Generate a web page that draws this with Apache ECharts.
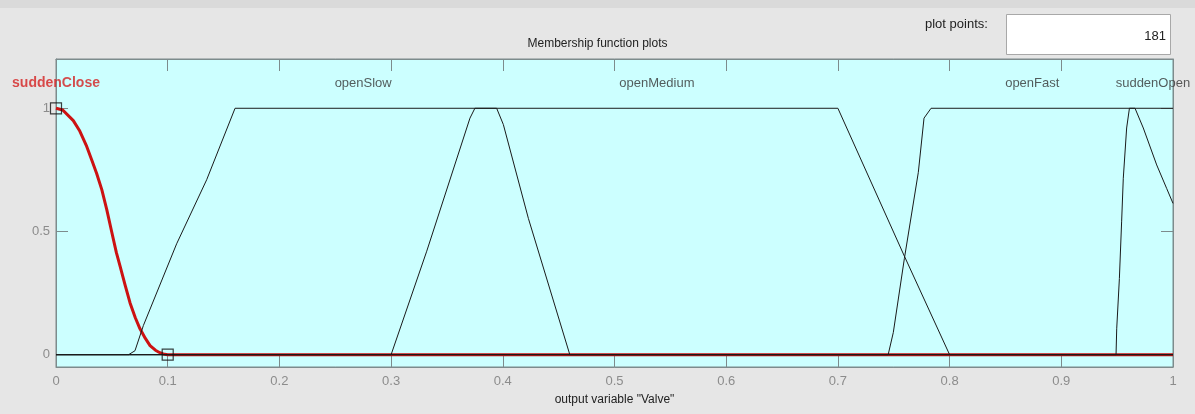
<!DOCTYPE html>
<html>
<head>
<meta charset="utf-8">
<title>Membership function plots</title>
<script src="https://cdn.jsdelivr.net/npm/echarts@6/dist/echarts.min.js"></script>
<style>
  html, body { margin: 0; padding: 0; background: #e6e6e6; }
  #chart { width: 1195px; height: 414px; }
</style>
</head>
<body>
<div id="chart"></div>
<script>
// 隶属函数数据
const suddenCloseX = [0, 0.006, 0.0155, 0.021, 0.0275, 0.032, 0.0364, 0.041, 0.0454, 0.0498, 0.054, 0.0573, 0.062, 0.0663, 0.071, 0.0752, 0.080, 0.0842, 0.089, 0.093, 0.096, 0.1, 1];
const suddenCloseY = [1, 0.993, 0.95, 0.91, 0.845, 0.79, 0.735, 0.67, 0.59, 0.50, 0.415, 0.36, 0.28, 0.21, 0.15, 0.105, 0.066, 0.037, 0.018, 0.008, 0.003, 0, 0];

const openSlowX = [0, 0.065, 0.0707, 0.0782, 0.108, 0.1349, 0.1603, 0.3945, 0.4005, 0.4229, 0.46, 1];
const openSlowY = [0, 0, 0.016, 0.118, 0.45, 0.71, 1, 1, 0.934, 0.553, 0, 0];

const openMediumX = [0, 0.3, 0.3319, 0.3706, 0.375, 0.7, 0.7595, 0.8, 1];
const openMediumY = [0, 0, 0.42, 0.96, 1, 1, 0.4, 0, 0];

const openFastX = [0, 0.745, 0.7496, 0.7595, 0.772, 0.7771, 0.7834, 0.966, 0.9734, 0.9854, 0.9943, 1];
const openFastY = [0, 0, 0.09, 0.39, 0.74, 0.96, 1, 1, 0.92, 0.77, 0.675, 0.614];

const suddenOpenX = [0, 0.949, 0.9496, 0.952, 0.954, 0.9555, 0.9585, 0.961, 1];
const suddenOpenY = [0, 0, 0.105, 0.309, 0.539, 0.716, 0.92, 1, 1];

// 参数点 (小方框)
const paramX = [0, 0.1];
const paramY = [1, 0];

// 隶属函数名称与标签位置
const mfNames = ['suddenClose', 'openSlow', 'openMedium', 'openFast', 'suddenOpen'];
const mfLabelX = [0, 0.275, 0.538, 0.874, 0.982];
const mfLabelY = 1.1;

const yTicks = [0, 0.5, 1];
const plotPoints = '181';

const FONT = '"Liberation Sans", Arial, sans-serif';
const frameColor = '#7d8b8c';
const tickTextColor = '#8c8c8c';

function zip(xs, ys) {
  return xs.map((x, i) => [x, ys[i]]);
}

function blackLine(name, xs, ys) {
  return {
    name: name,
    type: 'line',
    data: zip(xs, ys),
    symbol: 'none',
    z: 3,
    lineStyle: { color: '#1a1a1a', width: 1 }
  };
}

function getOption() {
  const fmtX = v => (v === 0 ? '0' : v === 1 ? '1' : (+v).toFixed(1));
  const fmtY = v => (v === 0 ? '0' : v === 1 ? '1' : String(v));
  const tick = { show: true, inside: true, length: 12, lineStyle: { color: frameColor } };
  const line = { show: true, onZero: false, lineStyle: { color: frameColor } };
  return {
    backgroundColor: '#e6e6e6',
    animation: false,
    textStyle: { fontFamily: FONT },
    grid: {
      show: true,
      left: 56,
      right: 22,
      top: 59,
      bottom: 47,
      backgroundColor: '#ccffff',
      borderColor: frameColor,
      borderWidth: 1
    },
    xAxis: [
      {
        type: 'value',
        position: 'bottom',
        min: 0,
        max: 1,
        interval: 0.1,
        name: 'output variable "Valve"',
        nameLocation: 'middle',
        nameGap: 27,
        nameTextStyle: { color: '#222', fontSize: 12, fontFamily: FONT },
        axisLine: line,
        axisTick: tick,
        axisLabel: { color: tickTextColor, fontSize: 13, margin: 8, formatter: fmtX, fontFamily: FONT },
        splitLine: { show: false }
      },
      {
        type: 'value',
        position: 'top',
        min: 0,
        max: 1,
        interval: 0.1,
        axisLine: line,
        axisTick: tick,
        axisLabel: { show: false },
        splitLine: { show: false }
      }
    ],
    yAxis: [
      {
        type: 'value',
        position: 'left',
        min: -0.05,
        max: 1.2,
        axisLine: line,
        axisTick: Object.assign({ customValues: yTicks }, tick),
        axisLabel: { color: tickTextColor, fontSize: 13, margin: 6, customValues: yTicks, formatter: fmtY, fontFamily: FONT },
        splitLine: { show: false }
      },
      {
        type: 'value',
        position: 'right',
        min: -0.05,
        max: 1.2,
        axisLine: line,
        axisTick: Object.assign({ customValues: yTicks }, tick),
        axisLabel: { show: false, customValues: yTicks },
        splitLine: { show: false }
      }
    ],
    series: [
      {
        // 选中的隶属函数, 红色粗线
        name: 'suddenClose',
        type: 'line',
        data: zip(suddenCloseX, suddenCloseY),
        symbol: 'none',
        z: 2,
        lineStyle: { color: '#cc1212', width: 3, join: 'round' }
      },
      blackLine('openSlow', openSlowX, openSlowY),
      blackLine('openMedium', openMediumX, openMediumY),
      blackLine('openFast', openFastX, openFastY),
      blackLine('suddenOpen', suddenOpenX, suddenOpenY),
      {
        name: 'params',
        type: 'scatter',
        data: zip(paramX, paramY),
        symbol: 'rect',
        symbolSize: 11,
        z: 4,
        itemStyle: { color: 'rgba(0,0,0,0)', borderColor: '#111', borderWidth: 1.2 },
        silent: true
      },
      {
        name: 'labels',
        type: 'scatter',
        symbolSize: 0,
        silent: true,
        clip: false,
        z: 5,
        data: mfNames.map((n, i) => ({
          value: [mfLabelX[i], mfLabelY],
          name: n,
          label: i === 0
            ? { color: '#d42020', fontWeight: 'bold', fontSize: 14 }
            : {}
        })),
        label: {
          show: true,
          position: 'inside',
          formatter: p => p.name,
          color: '#333',
          fontSize: 13,
          fontFamily: FONT
        }
      }
    ],
    graphic: [
      {
        type: 'rect',
        left: 0,
        top: 0,
        shape: { width: 1195, height: 8 },
        style: { fill: '#dadada' },
        silent: true
      },
      {
        type: 'text',
        left: 'center',
        top: 38,
        style: { text: 'Membership function plots', fill: '#222', font: '12px ' + FONT }
      },
      {
        type: 'text',
        left: 925,
        top: 18,
        style: { text: 'plot points:', fill: '#222', font: '13px ' + FONT }
      },
      {
        type: 'rect',
        left: 1006,
        top: 14,
        shape: { width: 164, height: 40 },
        style: { fill: '#ffffff', stroke: '#a8a8a8', lineWidth: 1 }
      },
      {
        type: 'text',
        right: 29,
        top: 30,
        style: { text: plotPoints, fill: '#222', font: '13px ' + FONT, align: 'right' }
      }
    ]
  };
}

const myChart = echarts.init(document.getElementById('chart'), null, { renderer: 'canvas' });
myChart.setOption(getOption());
</script>
</body>
</html>
